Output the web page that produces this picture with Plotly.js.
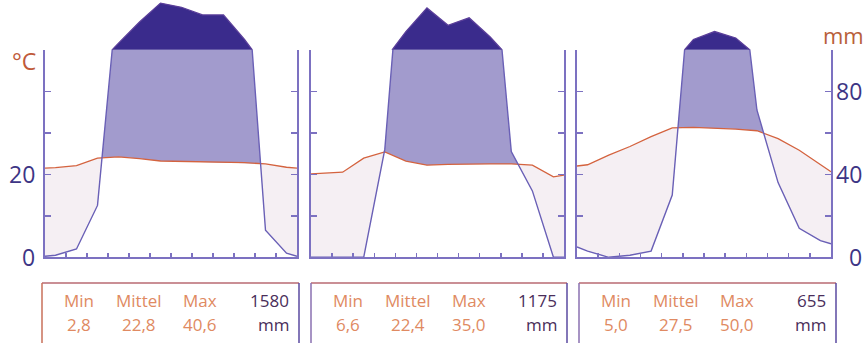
<!DOCTYPE html>
<html><head><meta charset="utf-8">
<script src="https://cdn.plot.ly/plotly-3.0.1.min.js"></script>
<style>html,body{margin:0;padding:0;background:#fff;}#chart{width:867px;height:343px;}</style>
</head><body><div id="chart"></div>
<script>
// ---- data ----
const months = ['Jan','Feb','Mär','Apr','Mai','Jun','Jul','Aug','Sep','Okt','Nov','Dez'];
const temp1 = [21.6, 22.1, 23.9, 24.2, 23.8, 23.2, 23.1, 23.0, 22.9, 22.8, 22.5, 21.7];
const prec1 = [1, 4, 25, 132, 234, 325, 305, 268, 268, 150, 13, 2];
const temp2 = [20.2, 20.5, 23.9, 25.4, 23.2, 22.2, 22.4, 22.5, 22.5, 22.5, 22.2, 19.4];
const prec2 = [0, 0, 0, 52, 188, 302, 218, 254, 162, 51, 32, 0];
const temp3 = [22.3, 24.6, 26.7, 29.1, 31.2, 31.3, 31.1, 30.9, 30.5, 28.6, 25.8, 22.2];
const prec3 = [3, 0, 1, 3, 30, 150, 188, 157, 71, 36, 14, 8];
// curve values where the year wraps at the left / right axis
const tempEdges = [[21.5, 21.5], [20.1, 19.8], [22.0, 20.6]];
const precEdges = [[0.5, 0.5], [0, 0], [5, 6.5]];
// table
const tMin  = [2.8, 6.6, 5.0];
const tMean = [22.8, 22.4, 27.5];
const tMax  = [40.6, 35.0, 50.0];
const annualPrec = [1580, 1175, 655];
const tableHead = ['Min', 'Mittel', 'Max'];
const tempTickLabels = [0, 20];
const precTickLabels = [0, 40, 80];

// ---- layout helpers ----
const W = 867, H = 343;
const px = x => x / W, py = y => 1 - y / H;
const Y0 = 257.3, K = 4.15;           // pixel of 0 °C, pixels per °C
const yLow = [py(Y0), py(Y0 - 50 * K)];
const yUp = [py(Y0 - 50 * K), 1];
const upMax = 50 + (Y0 - 50 * K) / K;
const panelsPx = [[45, 297], [311, 564], [577, 831]];
const boxesPx = [[42, 299], [311, 567], [579, 836]];

const temps = [temp1, temp2, temp3], precs = [prec1, prec2, prec3];
const xs = [0].concat(months.map((m, i) => i + 0.5), [12]);

const AX = '#7c71c1', TCOL = '#d4633f', PCOL = '#6a60b6';
const LAV = '#a29bcd', DARK = '#3a2b8c', DRY = '#f5eff3';
const FONT = 'Open Sans, sans-serif';

function minCurve(x, a, b) {
  const ox = [], oy = [];
  for (let i = 0; i < x.length; i++) {
    ox.push(x[i]); oy.push(Math.min(a[i], b[i]));
    if (i < x.length - 1) {
      const d0 = a[i] - b[i], d1 = a[i + 1] - b[i + 1];
      if (d0 * d1 < 0) {
        const t = d0 / (d0 - d1);
        ox.push(x[i] + t * (x[i + 1] - x[i]));
        oy.push(a[i] + t * (a[i + 1] - a[i]));
      }
    }
  }
  return [ox, oy];
}
function upperCurve(x, p) {
  const u = p.map(v => v / 2);
  const c = p.map(v => v <= 100 ? v / 2 : 50 + (v - 100) / 20);
  const ox = [], oy = [];
  for (let i = 0; i < x.length; i++) {
    ox.push(x[i]); oy.push(c[i]);
    if (i < x.length - 1 && (u[i] - 50) * (u[i + 1] - 50) < 0) {
      const t = (50 - u[i]) / (u[i + 1] - u[i]);
      ox.push(x[i] + t * (x[i + 1] - x[i])); oy.push(50);
    }
  }
  return [ox, oy];
}

const traces = [];
const layout = {
  width: W, height: H, margin: {l: 0, r: 0, t: 0, b: 0},
  paper_bgcolor: '#fff', plot_bgcolor: 'rgba(0,0,0,0)', showlegend: false,
  annotations: [], shapes: []
};

for (let p = 0; p < 3; p++) {
  const xn = p === 0 ? 'x' : 'x' + (p + 1);
  const yl = 'y' + (2 * p + 1 === 1 ? '' : 2 * p + 1);
  const yu = 'y' + (2 * p + 2);
  const T = [tempEdges[p][0]].concat(temps[p], [tempEdges[p][1]]);
  const P = [precEdges[p][0]].concat(precs[p], [precEdges[p][1]]);
  const Pu = P.map(v => v / 2);
  const common = {mode: 'lines', hoverinfo: 'skip', xaxis: xn};
  traces.push(Object.assign({}, common, {x: xs, y: T, yaxis: yl, fill: 'tozeroy', fillcolor: DRY, line: {width: 0, color: DRY}}));
  traces.push(Object.assign({}, common, {x: xs, y: Pu, yaxis: yl, fill: 'tozeroy', fillcolor: LAV, line: {width: 0, color: LAV}}));
  const [mx, my] = minCurve(xs, T, Pu);
  traces.push(Object.assign({}, common, {x: mx, y: my, yaxis: yl, fill: 'tozeroy', fillcolor: '#ffffff', line: {width: 0, color: '#fff'}}));
  traces.push(Object.assign({}, common, {x: xs, y: T, yaxis: yl, line: {width: 1.3, color: TCOL}}));
  traces.push(Object.assign({}, common, {x: xs, y: Pu, yaxis: yl, line: {width: 1.4, color: PCOL}}));
  const [ux, uy] = upperCurve(xs, P);
  traces.push(Object.assign({}, common, {x: ux, y: uy, yaxis: yu, fill: 'tozeroy', fillcolor: DARK, line: {width: 1.3, color: '#5b3f9a'}}));

  const xk = p === 0 ? 'xaxis' : 'xaxis' + (p + 1);
  const ylk = 'yaxis' + (2 * p + 1 === 1 ? '' : 2 * p + 1);
  const yuk = 'yaxis' + (2 * p + 2);
  layout[xk] = {domain: [px(panelsPx[p][0]), px(panelsPx[p][1])], range: [0, 12], anchor: yl,
    showline: true, linecolor: AX, linewidth: 2, ticks: 'inside', ticklen: 4, tickwidth: 1.5, tickcolor: AX,
    tickvals: [1,2,3,4,5,6,7,8,9,10,11], showticklabels: false, showgrid: false, zeroline: false, fixedrange: true};
  layout[ylk] = {domain: yLow, range: [0, 50], anchor: xn, showline: true, linecolor: AX, linewidth: 2,
    mirror: 'ticks', ticks: 'inside', ticklen: 6, tickwidth: 1.5, tickcolor: AX,
    tickvals: [0, 10, 20, 30, 40, 50], showticklabels: false, showgrid: false, zeroline: false, fixedrange: true};
  layout[yuk] = {domain: yUp, range: [50, upMax], anchor: xn, visible: false, fixedrange: true};

  // table box
  const [L, R] = boxesPx[p];
  layout.shapes.push({type: 'line', xref: 'paper', yref: 'paper', x0: px(L), x1: px(R), y0: py(283), y1: py(283), line: {color: '#b86a72', width: 1.5}});
  layout.shapes.push({type: 'line', xref: 'paper', yref: 'paper', x0: px(L), x1: px(L), y0: py(283), y1: py(345), line: {color: p === 0 ? '#c8705a' : '#8a70b0', width: 1.5}});
  layout.shapes.push({type: 'line', xref: 'paper', yref: 'paper', x0: px(R), x1: px(R), y0: py(283), y1: py(345), line: {color: '#5a4aa0', width: 1.5}});
  const fmt = v => v.toFixed(1).replace('.', ',');
  const cols = [L + 37, L + 97, L + 158];
  const vals = [tMin[p], tMean[p], tMax[p]];
  for (let c = 0; c < 3; c++) {
    layout.annotations.push({xref: 'paper', yref: 'paper', x: px(cols[c]), y: py(300), text: tableHead[c], showarrow: false,
      xanchor: 'center', yanchor: 'middle', font: {family: FONT, size: 17, color: '#e08a62'}});
    layout.annotations.push({xref: 'paper', yref: 'paper', x: px(cols[c]), y: py(324), text: fmt(vals[c]), showarrow: false,
      xanchor: 'center', yanchor: 'middle', font: {family: FONT, size: 17, color: '#e08a62'}});
  }
  layout.annotations.push({xref: 'paper', yref: 'paper', x: px(R - 8), y: py(300), text: String(annualPrec[p]), showarrow: false,
    xanchor: 'right', yanchor: 'middle', font: {family: FONT, size: 17, color: '#4a2e5a'}});
  layout.annotations.push({xref: 'paper', yref: 'paper', x: px(R - 8), y: py(324), text: 'mm', showarrow: false,
    xanchor: 'right', yanchor: 'middle', font: {family: FONT, size: 17, color: '#4a2e5a'}});
}

// axis labels
tempTickLabels.forEach(v => layout.annotations.push({xref: 'paper', yref: 'y', x: px(37), y: v, text: String(v),
  showarrow: false, xanchor: 'right', yanchor: 'middle', font: {family: FONT, size: 23, color: '#3d3585'}}));
layout.annotations.push({xref: 'paper', yref: 'paper', x: px(38), y: py(61), text: '°C', showarrow: false,
  xanchor: 'right', yanchor: 'middle', font: {family: FONT, size: 23, color: '#c05a3a'}});
precTickLabels.forEach(v => layout.annotations.push({xref: 'paper', yref: 'y5', x: px(864), y: v / 2, text: String(v),
  showarrow: false, xanchor: 'right', yanchor: 'middle', font: {family: FONT, size: 23, color: '#3d3585'}}));
layout.annotations.push({xref: 'paper', yref: 'paper', x: px(866), y: py(35), text: 'mm', showarrow: false,
  xanchor: 'right', yanchor: 'middle', font: {family: FONT, size: 22, color: '#b8603a'}});

Plotly.newPlot('chart', traces, layout, {staticPlot: true, displayModeBar: false});
</script></body></html>
